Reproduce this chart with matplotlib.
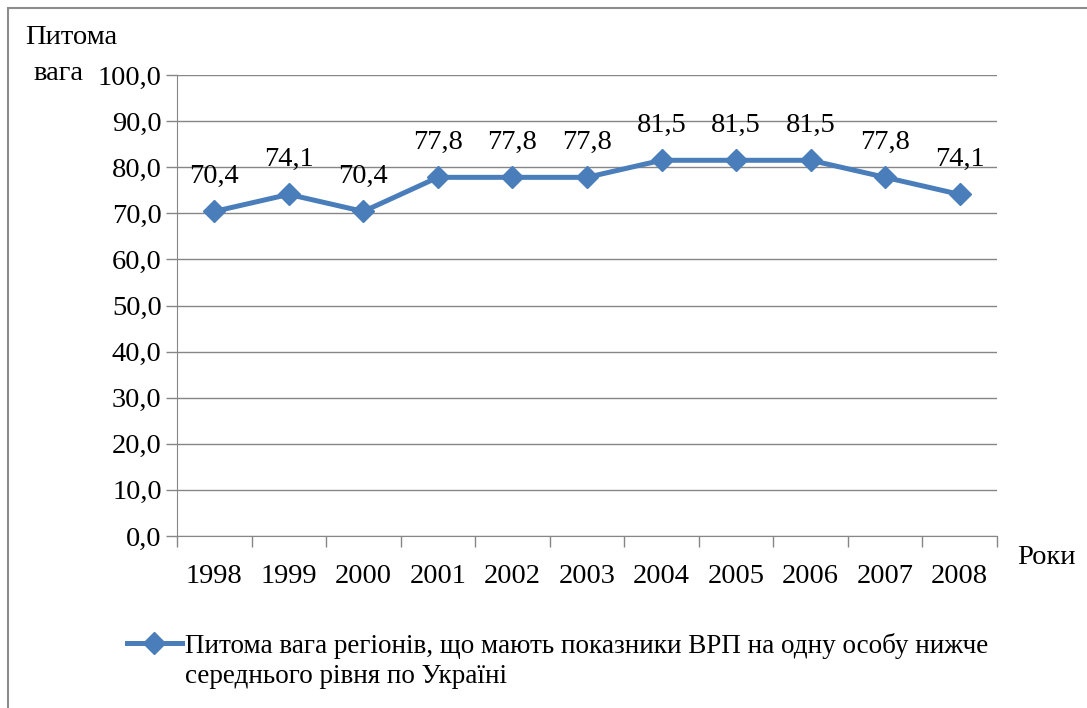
import matplotlib.pyplot as plt
from matplotlib.lines import Line2D
from matplotlib.patches import Rectangle

plt.rcParams['font.family'] = ['Liberation Serif', 'DejaVu Serif']

years = ['1998', '1999', '2000', '2001', '2002', '2003', '2004', '2005', '2006', '2007', '2008']
share = [70.4, 74.1, 70.4, 77.8, 77.8, 77.8, 81.5, 81.5, 81.5, 77.8, 74.1]
yticks = [0, 10, 20, 30, 40, 50, 60, 70, 80, 90, 100]
series_name = ('Питома вага регіонів, що мають показники ВРП на одну особу нижче\n'
               'середнього рівня по Україні')

blue = '#4A7EBB'
grey = '#868686'
fs = 20.5

fig = plt.figure(figsize=(10.87, 7.08), dpi=100)
ax = fig.add_axes([177/1087, 1-536/708, 820/1087, 461/708])

x = list(range(len(years)))
ax.plot(x, share, color=blue, lw=3.6, marker='D', ms=11, zorder=3)
for xi, v in zip(x, share):
    ax.annotate(f'{v:.1f}'.replace('.', ','), (xi, v), xytext=(0, 25),
                textcoords='offset points', ha='center', va='center', fontsize=fs)

ax.set_xlim(-0.5, len(years) - 0.5)
ax.set_ylim(0, 100)
ax.set_yticks(yticks)
ax.set_yticklabels([f'{t:.1f}'.replace('.', ',') for t in yticks], fontsize=fs)
ax.yaxis.grid(True, color=grey, lw=1)
ax.set_axisbelow(True)

# category boundaries as ticks, labels centred between
ax.set_xticks([i - 0.5 for i in range(len(years) + 1)])
ax.set_xticklabels([])
ax.set_xticks(x, minor=True)
ax.set_xticklabels(years, minor=True, fontsize=fs)
ax.tick_params(axis='x', which='minor', length=0, pad=20)
ax.tick_params(axis='x', which='major', length=8, color=grey, width=1)
ax.tick_params(axis='y', length=8, color=grey, width=1, pad=3)

for s in ['top', 'right']:
    ax.spines[s].set_visible(False)
ax.spines['left'].set_color(grey)
ax.spines['bottom'].set_color(grey)

fig.text(25/1087, 1-38/708, 'Питома', fontsize=fs, va='center', ha='left')
fig.text(33/1087, 1-74/708, 'вага', fontsize=fs, va='center', ha='left')
fig.text(1017/1087, 1-557/708, 'Роки', fontsize=fs, va='center', ha='left')

# legend
fig.add_artist(Line2D([127/1087, 182/1087], [1-643/708, 1-643/708], color=blue, lw=3.6))
fig.add_artist(Line2D([154/1087], [1-643/708], color=blue, marker='D', ms=11))
fig.text(185/1087, 1-661/708, series_name, fontsize=19.5, va='center', ha='left',
         linespacing=1.25, transform=fig.transFigure)

fig.add_artist(Rectangle((8/1087, -0.01), 1.2, 1 - 8/708 + 0.01, transform=fig.transFigure,
                         fill=False, edgecolor='#8c8c8c', lw=1.5))

fig.savefig('out.png', dpi=100)
